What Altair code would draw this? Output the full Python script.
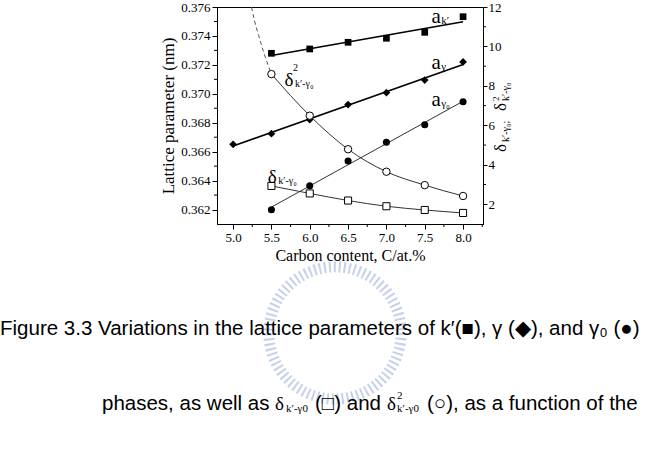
import altair as alt
import pandas as pd

# ---------------- data ----------------
carbon = [5.5, 6.0, 6.5, 7.0, 7.5, 8.0]
carbon_gamma = [5.0, 5.5, 6.0, 6.5, 7.0, 7.5, 8.0]
a_kprime = [0.3728, 0.3731, 0.37356, 0.37384, 0.37425, 0.37533]
a_gamma = [0.36651, 0.36724, 0.36822, 0.36926, 0.37008, 0.37095, 0.3722]
a_gamma0 = [0.36199, 0.36365, 0.36535, 0.36665, 0.36786, 0.36945]
delta = [2.93, 2.55, 2.19, 1.90, 1.71, 1.56]
delta_sq = [8.60, 6.49, 4.79, 3.65, 2.97, 2.42]
delta_sq_ext_x = [5.24, 5.28, 5.33, 5.40, 5.50]
delta_sq_ext_y = [12.0, 11.3, 10.6, 9.7, 8.6]

x_ticks = [5.0, 5.5, 6.0, 6.5, 7.0, 7.5, 8.0]
x_minor = [5.25, 5.75, 6.25, 6.75, 7.25, 7.75, 8.25]
left_ticks = [0.362, 0.364, 0.366, 0.368, 0.370, 0.372, 0.374, 0.376]
left_minor = [0.363, 0.365, 0.367, 0.369, 0.371, 0.373, 0.375]
right_ticks = [2, 4, 6, 8, 10, 12]
right_minor = [3, 5, 7, 9, 11]

# in-plot labels (data coordinates)
a_label_x = [7.65, 7.65, 7.65]
a_label_y = [0.3753, 0.37213, 0.36957]
a_label_sub = ["k′", "γ", "γ₀"]
d_label_x = [5.51, 5.73]
d_label_y = [3.38, 8.30]
d_label_sup = ["", "2"]

# ---------------- layout ----------------
LEFT, TOP, W, H = 217, 7, 266, 217
SERIF = "Liberation Serif"
SANS = "Liberation Sans"

x_dom = [4.79, 8.26]
yl_dom = [0.361, 0.376]
yr_dom = [1, 12]

common_axis = dict(labelFont=SERIF, labelFontSize=13, labelColor="black",
                   titleFont=SERIF, titleFontWeight="normal", titleColor="black",
                   tickColor="black", domainColor="black", grid=False,
                   tickSize=5, labelPadding=2)

x_axis = alt.Axis(values=x_ticks, format=".1f", title="Carbon content, C/at.%",
                  titleFontSize=16, titlePadding=3, **common_axis)
yl_axis = alt.Axis(values=left_ticks, format=".3f", title="Lattice parameter (nm)",
                   titleFontSize=17, titlePadding=3, orient="left", **common_axis)
yr_axis = alt.Axis(values=right_ticks, format="d", title=None, orient="right",
                   **{**common_axis, "tickSize": 4, "labelPadding": 1})


def X(field):
    return alt.X(f"{field}:Q", scale=alt.Scale(domain=x_dom, nice=False, zero=False), axis=x_axis)


def YL(field):
    return alt.Y(f"{field}:Q", scale=alt.Scale(domain=yl_dom, nice=False, zero=False), axis=yl_axis)


def YR(field):
    return alt.Y(f"{field}:Q", scale=alt.Scale(domain=yr_dom, nice=False, zero=False), axis=yr_axis)


df_k = pd.DataFrame({"x": carbon, "y": a_kprime})
df_g = pd.DataFrame({"x": carbon_gamma, "y": a_gamma})
df_g0 = pd.DataFrame({"x": carbon, "y": a_gamma0})
df_d = pd.DataFrame({"x": carbon, "y": delta})
df_d2 = pd.DataFrame({"x": carbon, "y": delta_sq})
df_ext = pd.DataFrame({"x": delta_sq_ext_x, "y": delta_sq_ext_y})
df_lmin = pd.DataFrame({"v": left_minor})
df_rmin = pd.DataFrame({"v": right_minor})
df_xmin = pd.DataFrame({"v": x_minor})
df_alab = pd.DataFrame({"x": a_label_x, "y": a_label_y, "sub": a_label_sub})
df_dlab = pd.DataFrame({"x": d_label_x, "y": d_label_y, "sup": d_label_sup})


def label(text, px, py, size, font=SERIF, angle=0, align="left", baseline="middle"):
    return alt.Chart(alt.Data(values=[{}])).mark_text(
        text=text, font=font, fontSize=size, angle=angle, align=align,
        baseline=baseline, color="black").encode(
        x=alt.value(px - LEFT), y=alt.value(py - TOP))


# faint watermark ring behind the caption
watermark = alt.Chart(alt.Data(values=[{}])).mark_point(
    shape="circle", filled=False, stroke="#b7c6e3", strokeWidth=11, strokeDash=[2, 3],
    size=17500, opacity=0.8).encode(x=alt.value(335 - LEFT), y=alt.value(333 - TOP))


def fit_line(df, width, color):
    return alt.Chart(df).transform_regression("x", "y").mark_line(
        color=color, strokeWidth=width).encode(x=X("x"), y=YL("y"))


left = alt.layer(
    fit_line(df_k, 1.6, "black"),
    fit_line(df_g, 1.6, "black"),
    fit_line(df_g0, 1.0, "#333333"),
    alt.Chart(df_k).mark_point(shape="square", filled=True, color="black", size=45, opacity=1)
    .encode(x=X("x"), y=YL("y")),
    alt.Chart(df_g).mark_point(shape="diamond", filled=True, color="black", size=60, opacity=1)
    .encode(x=X("x"), y=YL("y")),
    alt.Chart(df_g0).mark_point(shape="circle", filled=True, color="black", size=50, opacity=1)
    .encode(x=X("x"), y=YL("y")),
    alt.Chart(df_lmin).mark_rule(color="black", strokeWidth=1)
    .encode(y=YL("v"), x=alt.value(-3), x2=alt.value(0)),
    alt.Chart(df_xmin).mark_rule(color="black", strokeWidth=1)
    .encode(x=X("v"), y=alt.value(H), y2=alt.value(H + 3)),
    alt.Chart(df_alab).mark_text(text="a", font=SERIF, fontSize=21, color="black",
                                  baseline="middle", align="center")
    .encode(x=X("x"), y=YL("y")),
    alt.Chart(df_alab).mark_text(font=SERIF, fontSize=11, color="black",
                                  baseline="middle", align="left", dx=5, dy=4)
    .encode(x=X("x"), y=YL("y"), text="sub:N"),
)

right = alt.layer(
    alt.Chart(df_d).mark_line(color="#333333", strokeWidth=1, interpolate="monotone")
    .encode(x=X("x"), y=YR("y")),
    alt.Chart(df_d2).mark_line(color="#333333", strokeWidth=1, interpolate="monotone")
    .encode(x=X("x"), y=YR("y")),
    alt.Chart(df_ext).mark_line(color="#555555", strokeWidth=1, strokeDash=[4, 3],
                                interpolate="monotone")
    .encode(x=X("x"), y=YR("y")),
    alt.Chart(df_d).mark_point(shape="square", filled=True, fill="white", stroke="black",
                               strokeWidth=1, size=50, opacity=1)
    .encode(x=X("x"), y=YR("y")),
    alt.Chart(df_d2).mark_point(shape="circle", filled=True, fill="white", stroke="black",
                                strokeWidth=1, size=55, opacity=1)
    .encode(x=X("x"), y=YR("y")),
    alt.Chart(df_rmin).mark_rule(color="black", strokeWidth=1)
    .encode(y=YR("v"), x=alt.value(W), x2=alt.value(W + 3)),
    alt.Chart(df_dlab).mark_text(text="δ", font=SERIF, fontSize=19, color="black",
                                  baseline="middle", align="center")
    .encode(x=X("x"), y=YR("y")),
    alt.Chart(df_dlab).mark_text(text="k′-γ₀", font=SERIF, fontSize=10, color="black",
                                  baseline="middle", align="left", dx=6, dy=4)
    .encode(x=X("x"), y=YR("y")),
    alt.Chart(df_dlab).mark_text(font=SERIF, fontSize=10, color="black",
                                  baseline="middle", align="left", dx=4, dy=-12)
    .encode(x=X("x"), y=YR("y"), text="sup:N"),
)

texts = alt.layer(
    # right axis title (rotated)
    label("δ", 501, 152, 17, angle=270),
    label("k′-γ₀;", 506, 142, 10, angle=270),
    label("δ", 501, 111, 17, angle=270),
    label("2", 496, 101, 9, angle=270),
    label("k′-γ₀", 506, 101, 10, angle=270),
    # caption line 1
    label("Figure 3.3 Variations in the lattice parameters of k′(■), γ (◆), and γ₀ (●)",
          0, 329, 20.5, font=SANS),
    # caption line 2
    label("phases, as well as", 102, 404, 20.5, font=SANS),
    label("δ", 275, 404, 19),
    label("k′-γ0", 286, 409, 11),
    label("(□) and", 315, 404, 20.5, font=SANS),
    label("δ", 387, 404, 19),
    label("2", 397, 396, 11),
    label("k′-γ0", 397, 409, 11),
    label("(○), as a function of the", 427, 404, 20.5, font=SANS),
)

chart = alt.layer(watermark, left, right, texts).resolve_scale(y="independent").properties(
    width=W, height=H,
    autosize=alt.AutoSizeParams(type="none"),
    padding={"left": LEFT, "top": TOP, "right": 660 - LEFT - W, "bottom": 450 - TOP - H},
    background="white",
).configure_view(stroke="black", strokeWidth=1)

chart.save("out.html", embed_options={"renderer": "svg", "actions": False})
